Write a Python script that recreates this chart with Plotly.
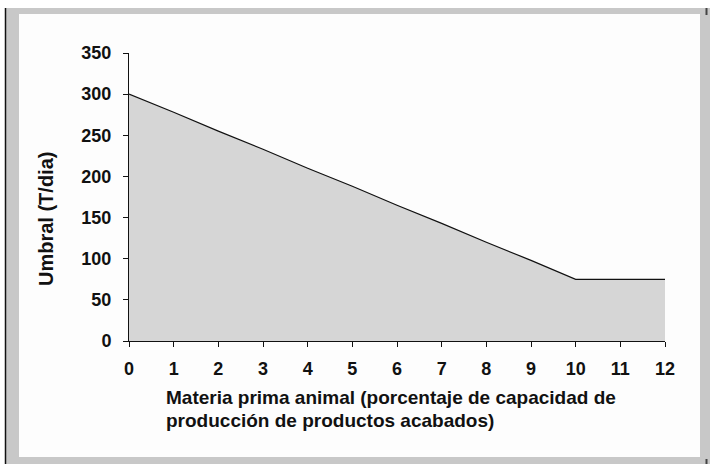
import plotly.graph_objects as go

x_vals = [0, 1, 2, 3, 4, 5, 6, 7, 8, 9, 10, 11, 12]
umbral = [300, 278, 255, 233, 210, 188, 165, 143, 120, 98, 75, 75, 75]
x_ticks = list(range(0, 13))
y_ticks = [0, 50, 100, 150, 200, 250, 300, 350]

y_title = "Umbral (T/dia)"
x_title_1 = "Materia prima animal (porcentaje de capacidad de"
x_title_2 = "producción de productos acabados)"

W, H = 710, 464
L, R, T, B = 129, 665, 53, 341


def px(xp):
    return (xp - L) / (R - L)


def py(yp):
    return (B - yp) / (B - T)


fig = go.Figure()
fig.add_trace(go.Scatter(
    x=x_vals, y=umbral, mode="lines", fill="tozeroy",
    fillcolor="#d6d6d6", line=dict(color="#111111", width=1.2),
    hoverinfo="skip", showlegend=False,
))

tick_font = dict(family="Liberation Sans, Arial, sans-serif", size=18, color="#111111")
title_font = dict(family="Liberation Sans, Arial, sans-serif", size=19, color="#111111")

fig.update_layout(
    width=W, height=H,
    margin=dict(l=L, r=W - R, t=T, b=H - B),
    paper_bgcolor="white", plot_bgcolor="rgba(0,0,0,0)",
    xaxis=dict(
        range=[0, 12], tickvals=x_ticks, ticktext=[f"<b>{v}</b>" for v in x_ticks],
        showgrid=False, zeroline=False, showline=True, linecolor="#111111", linewidth=1,
        ticks="outside", ticklen=5, tickcolor="#111111", tickfont=tick_font,
        ticklabelstandoff=6, fixedrange=True,
    ),
    yaxis=dict(
        range=[0, 350], tickvals=y_ticks, ticktext=[f"<b>{v}</b>" for v in y_ticks],
        showgrid=False, zeroline=False, showline=True, linecolor="#111111", linewidth=1,
        ticks="outside", ticklen=5, tickcolor="#111111", tickfont=tick_font,
        ticklabelstandoff=8, fixedrange=True,
    ),
    shapes=[
        dict(type="rect", xref="paper", yref="paper", layer="below",
             x0=px(6), x1=px(710), y0=py(8), y1=py(464),
             fillcolor="#c8c8c8", line=dict(width=0)),
        dict(type="rect", xref="paper", yref="paper", layer="below",
             x0=px(19), x1=px(700), y0=py(14), y1=py(457),
             fillcolor="#fdfdfd", line=dict(width=0)),
        dict(type="line", xref="paper", yref="paper", layer="below",
             x0=px(5.5), x1=px(5.5), y0=py(8), y1=py(464),
             line=dict(color="#111111", width=1.5)),
        dict(type="line", xref="paper", yref="paper", layer="below",
             x0=px(706.5), x1=px(706.5), y0=py(8), y1=py(15),
             line=dict(color="#444444", width=2)),
        dict(type="line", xref="paper", yref="paper", layer="below",
             x0=px(706.5), x1=px(706.5), y0=py(459), y1=py(464),
             line=dict(color="#444444", width=2)),
    ],
    annotations=[
        dict(text=f"<b>{y_title}</b>", xref="paper", yref="paper",
             x=px(46), y=py(219), textangle=-90, showarrow=False,
             xanchor="center", yanchor="middle",
             font=dict(family="Liberation Sans, Arial, sans-serif", size=20, color="#111111")),
        dict(text=f"<b>{x_title_1}</b>", xref="paper", yref="paper",
             x=px(164), y=py(397), showarrow=False, align="left",
             xanchor="left", yanchor="middle", font=title_font),
        dict(text=f"<b>{x_title_2}</b>", xref="paper", yref="paper",
             x=px(164), y=py(420), showarrow=False, align="left",
             xanchor="left", yanchor="middle", font=title_font),
    ],
)

fig.write_html("out.html", config={"displayModeBar": False},
               post_script="document.body.style.margin='0';document.body.style.overflow='hidden';")
